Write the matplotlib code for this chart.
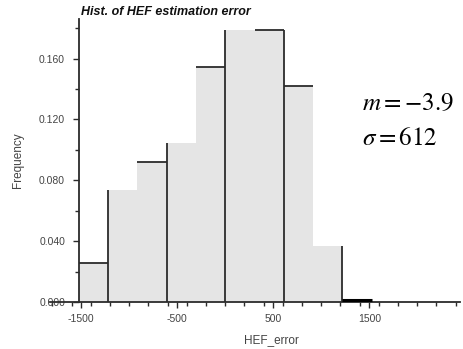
import numpy as np
import matplotlib
matplotlib.use("Agg")
import matplotlib.pyplot as plt
from matplotlib.ticker import MultipleLocator

# ---- data ----
bin_edges = [-1525, -1220, -915, -610, -305, 0, 305, 610, 915, 1220, 1525]
rel_freq = [0.0257, 0.0735, 0.092, 0.1047, 0.1547, 0.1789, 0.1789, 0.142, 0.037, 0.0015]
x_ticks = [-1500, -500, 500, 1500]
x_ticklabels = ["-1500", "-500", "500", "1500"]
y_ticks = [0.0, 0.04, 0.08, 0.12, 0.16]
y_ticklabels = ["0.000", "0.040", "0.080", "0.120", "0.160"]
title = "Hist. of HEF estimation error"
xlabel = "HEF_error"
ylabel = "Frequency"
stats_text = ["$m = -3.9$", "$\\sigma = 612$"]

plt.rcParams["mathtext.fontset"] = "stix"
plt.rcParams["font.family"] = ["Liberation Sans", "DejaVu Sans"]

W, H = 463, 349
fig = plt.figure(figsize=(W / 100, H / 100), dpi=100)
ax = fig.add_axes([50 / W, 1 - 302 / H, 410 / W, (302 - 19) / H])

edges = np.array(bin_edges)
h = np.array(rel_freq)
widths = np.diff(edges)
ax.bar(edges[:-1], h, width=widths, align="edge", color="#e5e5e5",
       edgecolor="none", zorder=1)

line_col = "#2b2b2b"
# vertical dividers every second edge
for k in [1, 3, 5, 7, 9]:
    ax.plot([edges[k], edges[k]], [0, max(h[k - 1], h[k])], color=line_col,
            lw=1.3, zorder=3, solid_capstyle="butt")
# outlined tops
for k in [0, 2, 4, 6, 7]:
    ax.plot([edges[k], edges[k + 1]], [h[k], h[k]], color=line_col, lw=1.3,
            zorder=3, solid_capstyle="butt")
ax.plot([edges[9], edges[10]], [h[9], h[9]], color="black", lw=2.2, zorder=3,
        solid_capstyle="butt")

ax.set_xlim(-1826, 2445)
ax.set_ylim(0, 0.186)

for s in ["top", "right"]:
    ax.spines[s].set_visible(False)
ax.spines["left"].set_position(("data", edges[0]))
ax.spines["left"].set_color(line_col)
ax.spines["bottom"].set_color(line_col)
ax.spines["left"].set_linewidth(1.3)
ax.spines["bottom"].set_linewidth(1.3)

ax.set_xticks(x_ticks)
ax.set_xticklabels(x_ticklabels)
ax.xaxis.set_minor_locator(MultipleLocator(200))
ax.set_yticks(y_ticks)
ax.set_yticklabels(y_ticklabels)
ax.yaxis.set_minor_locator(MultipleLocator(0.02))

ax.tick_params(axis="both", which="major", length=4, width=1.0, colors=line_col,
               labelsize=7.5, labelcolor="#444444")
ax.tick_params(axis="both", which="minor", length=3, width=1.0, colors=line_col)
ax.tick_params(axis="y", which="major", pad=6)
ax.tick_params(axis="x", which="major", pad=5)

fig.text(81 / W, 1 - 12 / H, title, fontsize=9, fontweight="bold",
         fontstyle="italic", ha="left", va="center", color="#111111")
fig.text(18 / W, 1 - 160 / H, ylabel, fontsize=8.5, rotation=90,
         ha="center", va="center", color="#444444")
fig.text(271 / W, 1 - 340 / H, xlabel, fontsize=8.5, ha="center",
         va="center", color="#444444")

fig.text(362 / W, 1 - 103 / H, stats_text[0], fontsize=18, ha="left",
         va="center", color="black")
fig.text(362 / W, 1 - 138 / H, stats_text[1], fontsize=18, ha="left",
         va="center", color="black")

fig.savefig("out.png", dpi=100)
